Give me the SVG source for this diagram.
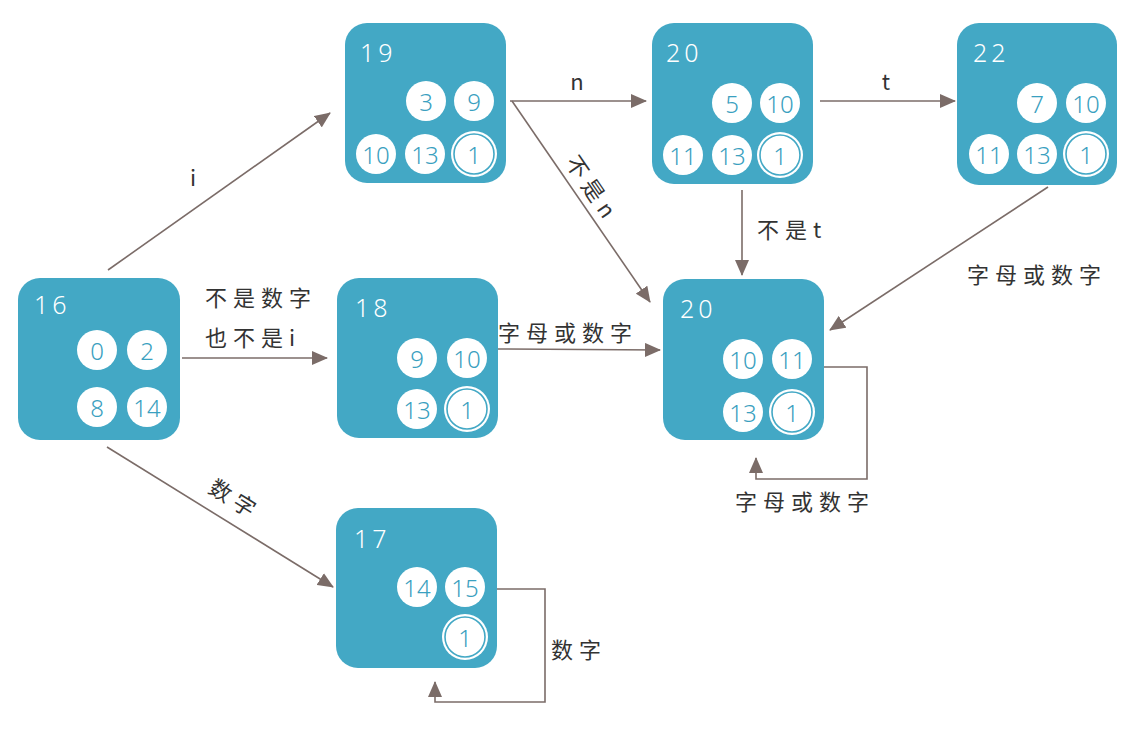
<svg xmlns="http://www.w3.org/2000/svg" width="1142" height="729" viewBox="0 0 1142 729">
<defs>
<marker id="ah" viewBox="0 0 16 14" markerWidth="16" markerHeight="14" refX="15" refY="7" orient="auto" markerUnits="userSpaceOnUse">
<path d="M0,0 L16,7 L0,14 z" fill="#7b6c68"/>
</marker>
</defs>
<style>
.box{fill:#43a8c5}
.id{font-family:"Noto Sans","Liberation Sans",sans-serif;font-weight:300;font-size:25px;fill:#fff;letter-spacing:4px}
.c{fill:#fff}
.ring{fill:#fff;stroke:#43a8c5;stroke-width:1.6}
.n{font-family:"Noto Sans","Liberation Sans",sans-serif;font-weight:300;font-size:24px;fill:#3aa0c0;text-anchor:middle;dominant-baseline:central}
.e{fill:none;stroke:#7b6c68;stroke-width:1.6;marker-end:url(#ah)}
.l{font-family:"Noto Sans CJK SC","Noto Sans",sans-serif;font-size:22px;fill:#333;letter-spacing:6px}
.lm{text-anchor:middle;dominant-baseline:central}
</style>
<rect width="1142" height="729" fill="#fff"/>
<g id="connectors">
<line class="e" x1="108" y1="270" x2="330" y2="113"/>
<line class="e" x1="182" y1="358" x2="327" y2="358"/>
<line class="e" x1="107" y1="447" x2="333" y2="587"/>
<line class="e" x1="510" y1="101" x2="646" y2="101"/>
<line class="e" x1="512" y1="101" x2="650" y2="302"/>
<line class="e" x1="820" y1="101" x2="955" y2="101"/>
<line class="e" x1="742" y1="190" x2="742" y2="275"/>
<line class="e" x1="1048" y1="187" x2="830" y2="330"/>
<line class="e" x1="498" y1="349" x2="660" y2="350"/>
<polyline class="e" points="824,367 867,367 867,479 756,479 756,458"/>
<polyline class="e" points="497,589 545,589 545,702 435,702 435,682"/>
<text class="l lm" x="196" y="176">i</text>
<text class="l" x="205" y="306">不是数字</text>
<text class="l" x="205" y="346">也不是i</text>
<text class="l lm" transform="translate(236,498) rotate(32)">数字</text>
<text class="l lm" x="580" y="80">n</text>
<text class="l lm" transform="translate(594,188) rotate(55.5)">不是n</text>
<text class="l lm" x="889" y="80">t</text>
<text class="l" x="757" y="238">不是t</text>
<text class="l" x="967" y="283">字母或数字</text>
<text class="l" x="498" y="341">字母或数字</text>
<text class="l" x="735" y="510">字母或数字</text>
<text class="l" x="551" y="658">数字</text>
</g>
<g id="n16">
<rect class="box" x="18" y="278" width="162" height="162" rx="22"/>
<text class="id" x="34" y="314">16</text>
<circle class="c" cx="97" cy="350" r="20"/><text class="n" x="97" y="350">0</text>
<circle class="c" cx="147" cy="350" r="20"/><text class="n" x="147" y="350">2</text>
<circle class="c" cx="97" cy="407" r="20"/><text class="n" x="97" y="407">8</text>
<circle class="c" cx="147" cy="407" r="20"/><text class="n" x="147" y="407">14</text>
</g>
<g id="n19">
<rect class="box" x="345" y="23" width="161" height="160" rx="22"/>
<text class="id" x="360" y="62">19</text>
<circle class="c" cx="426" cy="101" r="20"/><text class="n" x="426" y="101">3</text>
<circle class="c" cx="474" cy="101" r="20"/><text class="n" x="474" y="101">9</text>
<circle class="c" cx="376" cy="154" r="20"/><text class="n" x="376" y="154">10</text>
<circle class="c" cx="425" cy="154" r="20"/><text class="n" x="425" y="154">13</text>
<circle class="c" cx="474" cy="154" r="23"/><circle class="ring" cx="474" cy="154" r="20"/><text class="n" x="474" y="154">1</text>
</g>
<g id="n20a">
<rect class="box" x="652" y="23" width="161" height="161" rx="22"/>
<text class="id" x="666" y="62">20</text>
<circle class="c" cx="732" cy="103" r="20"/><text class="n" x="732" y="103">5</text>
<circle class="c" cx="780" cy="103" r="20"/><text class="n" x="780" y="103">10</text>
<circle class="c" cx="683" cy="155" r="20"/><text class="n" x="683" y="155">11</text>
<circle class="c" cx="732" cy="155" r="20"/><text class="n" x="732" y="155">13</text>
<circle class="c" cx="780" cy="155" r="23"/><circle class="ring" cx="780" cy="155" r="20"/><text class="n" x="780" y="155">1</text>
</g>
<g id="n22">
<rect class="box" x="957" y="23" width="160" height="162" rx="22"/>
<text class="id" x="973" y="62">22</text>
<circle class="c" cx="1037" cy="103" r="20"/><text class="n" x="1037" y="103">7</text>
<circle class="c" cx="1086" cy="103" r="20"/><text class="n" x="1086" y="103">10</text>
<circle class="c" cx="989" cy="154" r="20"/><text class="n" x="989" y="154">11</text>
<circle class="c" cx="1037" cy="154" r="20"/><text class="n" x="1037" y="154">13</text>
<circle class="c" cx="1086" cy="154" r="23"/><circle class="ring" cx="1086" cy="154" r="20"/><text class="n" x="1086" y="154">1</text>
</g>
<g id="n18">
<rect class="box" x="337" y="278" width="161" height="160" rx="22"/>
<text class="id" x="355" y="317">18</text>
<circle class="c" cx="417" cy="358" r="20"/><text class="n" x="417" y="358">9</text>
<circle class="c" cx="467" cy="358" r="20"/><text class="n" x="467" y="358">10</text>
<circle class="c" cx="417" cy="409" r="20"/><text class="n" x="417" y="409">13</text>
<circle class="c" cx="467" cy="409" r="23"/><circle class="ring" cx="467" cy="409" r="20"/><text class="n" x="467" y="409">1</text>
</g>
<g id="n20b">
<rect class="box" x="663" y="279" width="161" height="161" rx="22"/>
<text class="id" x="680" y="318">20</text>
<circle class="c" cx="743" cy="359" r="20"/><text class="n" x="743" y="359">10</text>
<circle class="c" cx="792" cy="359" r="20"/><text class="n" x="792" y="359">11</text>
<circle class="c" cx="743" cy="412" r="20"/><text class="n" x="743" y="412">13</text>
<circle class="c" cx="792" cy="412" r="23"/><circle class="ring" cx="792" cy="412" r="20"/><text class="n" x="792" y="412">1</text>
</g>
<g id="n17">
<rect class="box" x="336" y="508" width="161" height="160" rx="22"/>
<text class="id" x="354" y="548">17</text>
<circle class="c" cx="417" cy="587" r="20"/><text class="n" x="417" y="587">14</text>
<circle class="c" cx="465" cy="587" r="20"/><text class="n" x="465" y="587">15</text>
<circle class="c" cx="465" cy="637" r="23"/><circle class="ring" cx="465" cy="637" r="20"/><text class="n" x="465" y="637">1</text>
</g>
</svg>
